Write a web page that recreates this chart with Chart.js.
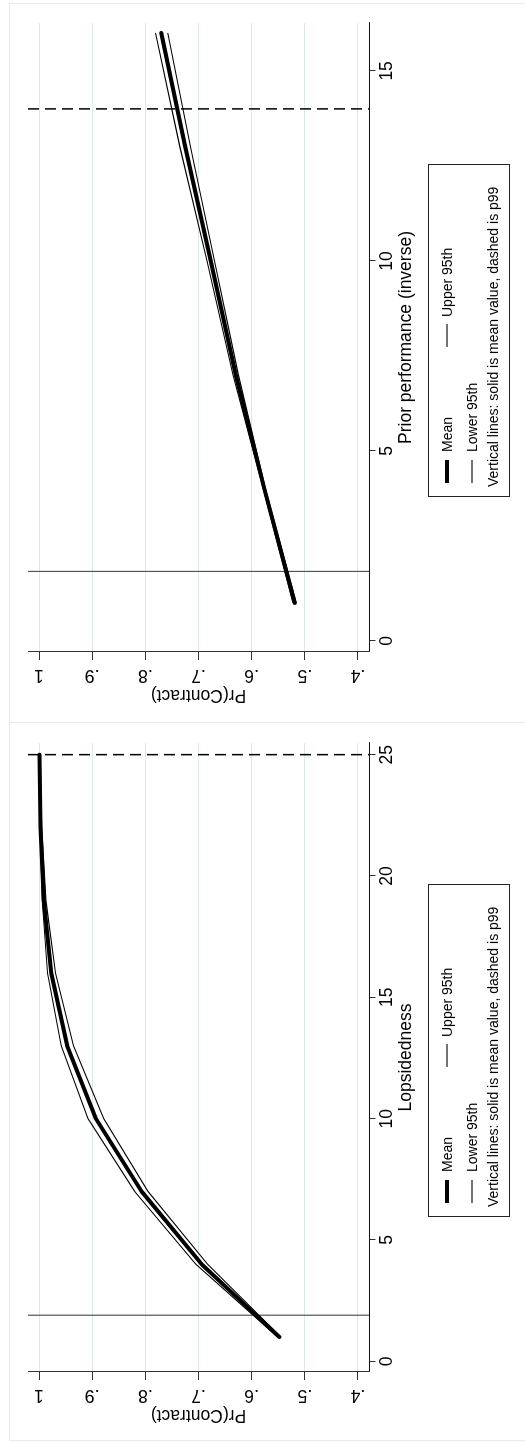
<!DOCTYPE html>
<html>
<head>
<meta charset="utf-8">
<title>Pr(Contract)</title>
<script src="https://cdn.jsdelivr.net/npm/chart.js@4.4.1/dist/chart.umd.min.js"></script>
<style>
  html, body { margin: 0; padding: 0; background: #fff; width: 525px; height: 1443px; overflow: hidden; }
  /* The figure is laid out landscape and turned a quarter turn counter-clockwise */
  #stage { position: absolute; left: 0; top: 0; width: 1443px; height: 525px;
           transform-origin: 0 0; transform: rotate(-90deg) translateX(-1443px); background: #fff; }
  .panel { position: absolute; top: 0; height: 525px; }
  .frame { position: absolute; box-sizing: border-box; border: 1px solid rgb(228, 236, 238); }
  canvas { display: block; }
</style>
</head>
<body>
<div id="stage">
  <div class="frame" style="left:2px; top:9px; width:719px; height:530px;"></div>
  <div class="frame" style="left:720px; top:9px; width:720px; height:530px;"></div>
  <div class="panel" style="left:0; width:720px;"><canvas id="lops" width="720" height="525"></canvas></div>
  <div class="panel" style="left:720px; width:723px;"><canvas id="prior" width="723" height="525"></canvas></div>
</div>
<script>
// Probability axis shared by both panels
const prTicks = [0.4, 0.5, 0.6, 0.7, 0.8, 0.9, 1];
const prTickLabels = ['.4', '.5', '.6', '.7', '.8', '.9', '1'];
const prRange = [0.3793, 1.0207];

// Lopsidedness panel
const lopsX = [1, 4, 7, 10, 13, 16, 19, 22, 25];
const lopsMean  = [0.548, 0.694, 0.807, 0.893, 0.947, 0.977, 0.991, 0.997, 0.999];
const lopsUpper = [0.551, 0.705, 0.820, 0.908, 0.958, 0.984, 0.994, 0.998, 0.9996];
const lopsLower = [0.545, 0.683, 0.795, 0.878, 0.935, 0.969, 0.987, 0.995, 0.998];
const lopsTicks = [0, 5, 10, 15, 20, 25];
const lopsRange = [-0.44, 25.48];
const lopsMeanValue = 1.9;
const lopsP99 = 25;

// Prior performance (inverse) panel
const priorX = [1, 4, 7, 10, 13, 16];
const priorMean  = [0.519, 0.576, 0.630, 0.677, 0.725, 0.770];
const priorUpper = [0.522, 0.578, 0.635, 0.684, 0.735, 0.781];
const priorLower = [0.516, 0.574, 0.625, 0.670, 0.715, 0.758];
const priorTicks = [0, 5, 10, 15];
const priorRange = [-0.29, 16.26];
const priorMeanValue = 1.83;
const priorP99 = 14;

const seriesNames = ['Mean', 'Lower 95th', 'Upper 95th'];
const noteText = 'Vertical lines: solid is mean value, dashed is p99';
const yTitle = 'Pr(Contract)';

const FONT = '"Liberation Sans", Arial, Helvetica, sans-serif';
const GRID = 'rgb(222, 232, 234)';
const AXIS = '#333';

function pts(xs, ys) { return xs.map((x, i) => ({ x: x, y: ys[i] })); }

// Boxed two-column legend with a note row underneath
const boxedLegend = {
  id: 'boxedLegend',
  afterDraw(chart, args, o) {
    const ctx = chart.ctx;
    const ds = chart.data.datasets;
    ctx.save();
    ctx.strokeStyle = '#222';
    ctx.lineWidth = 1;
    ctx.strokeRect(Math.round(o.left) + 0.5, Math.round(o.top) + 0.5, o.width, o.height);
    ctx.font = '14px ' + FONT;
    ctx.fillStyle = '#000';
    ctx.textBaseline = 'middle';
    ctx.textAlign = 'left';
    const entries = [
      { d: ds[0], kx: 14, tx: 45, row: 19 },
      { d: ds[2], kx: 150, tx: 180, row: 19 },
      { d: ds[1], kx: 14, tx: 45, row: 44 }
    ];
    entries.forEach(e => {
      const y = o.top + e.row;
      ctx.beginPath();
      ctx.strokeStyle = e.d.borderColor;
      ctx.lineWidth = e.d.borderWidth;
      ctx.lineCap = 'butt';
      ctx.moveTo(o.left + e.kx, y);
      ctx.lineTo(o.left + e.kx + 23, y);
      ctx.stroke();
      ctx.fillText(e.d.label, o.left + e.tx, y + 1);
    });
    ctx.fillText(noteText, o.left + 10, o.top + 66);
    ctx.restore();
  }
};

function makeChart(id, cfg) {
  const canvas = document.getElementById(id);
  const W = canvas.width;
  return new Chart(canvas, {
    type: 'line',
    data: {
      datasets: [
        { label: seriesNames[0], data: pts(cfg.x, cfg.mean), borderColor: '#000', borderWidth: 4,
          borderCapStyle: 'round', borderJoinStyle: 'round', pointRadius: 0, tension: 0 },
        { label: seriesNames[1], data: pts(cfg.x, cfg.lower), borderColor: '#000', borderWidth: 1.1,
          pointRadius: 0, tension: 0 },
        { label: seriesNames[2], data: pts(cfg.x, cfg.upper), borderColor: '#000', borderWidth: 1.1,
          pointRadius: 0, tension: 0 },
        { label: 'mean value', data: [{ x: cfg.meanValue, y: prRange[1] }, { x: cfg.meanValue, y: prRange[0] }],
          borderColor: '#555', borderWidth: 1.2, pointRadius: 0 },
        { label: 'p99', data: [{ x: cfg.p99, y: prRange[1] }, { x: cfg.p99, y: prRange[0] }],
          borderColor: '#000', borderWidth: 1.5, borderDash: [11, 6], pointRadius: 0 }
      ]
    },
    options: {
      responsive: false,
      animation: false,
      devicePixelRatio: 1,
      layout: { padding: { left: 0, top: 28, right: W - 700, bottom: 0 } },
      plugins: {
        legend: { display: false },
        tooltip: { enabled: false },
        boxedLegend: { left: 226, top: 428, width: 332, height: 81 }
      },
      scales: {
        x: {
          type: 'linear',
          min: cfg.range[0], max: cfg.range[1],
          afterBuildTicks: s => { s.ticks = cfg.ticks.map(v => ({ value: v })); },
          afterFit: s => { s.height = 156; },
          ticks: { color: '#000', font: { family: FONT, size: 17.5 }, padding: 1,
                   maxRotation: 0, autoSkip: false, callback: v => String(v) },
          grid: { drawOnChartArea: false, drawTicks: true, tickLength: 6.5, tickColor: AXIS, tickWidth: 1 },
          border: { display: true, color: '#111', width: 1 },
          title: { display: true, text: cfg.title, color: '#000', font: { family: FONT, size: 17.5 },
                   padding: { top: 0, bottom: 108.5 } }
        },
        y: {
          type: 'linear',
          min: prRange[0], max: prRange[1],
          afterBuildTicks: s => { s.ticks = prTicks.map(v => ({ value: v })); },
          afterFit: s => { s.width = 71; },
          ticks: { color: '#000', font: { family: FONT, size: 17.5 }, padding: 7.7,
                   minRotation: 90, maxRotation: 90, crossAlign: 'center', autoSkip: false,
                   callback: v => prTickLabels[prTicks.indexOf(v)] },
          grid: { color: GRID, lineWidth: 1, drawTicks: true, tickLength: 8, tickColor: AXIS, tickWidth: 1 },
          border: { display: true, color: AXIS, width: 1 },
          title: { display: true, text: yTitle, color: '#000', font: { family: FONT, size: 17.5 },
                   padding: { top: 17.5, bottom: 0 } }
        }
      }
    },
    plugins: [boxedLegend]
  });
}

makeChart('lops', { x: lopsX, mean: lopsMean, upper: lopsUpper, lower: lopsLower,
  ticks: lopsTicks, range: lopsRange, meanValue: lopsMeanValue, p99: lopsP99, title: 'Lopsidedness' });
makeChart('prior', { x: priorX, mean: priorMean, upper: priorUpper, lower: priorLower,
  ticks: priorTicks, range: priorRange, meanValue: priorMeanValue, p99: priorP99, title: 'Prior performance (inverse)' });
</script>
</body>
</html>
